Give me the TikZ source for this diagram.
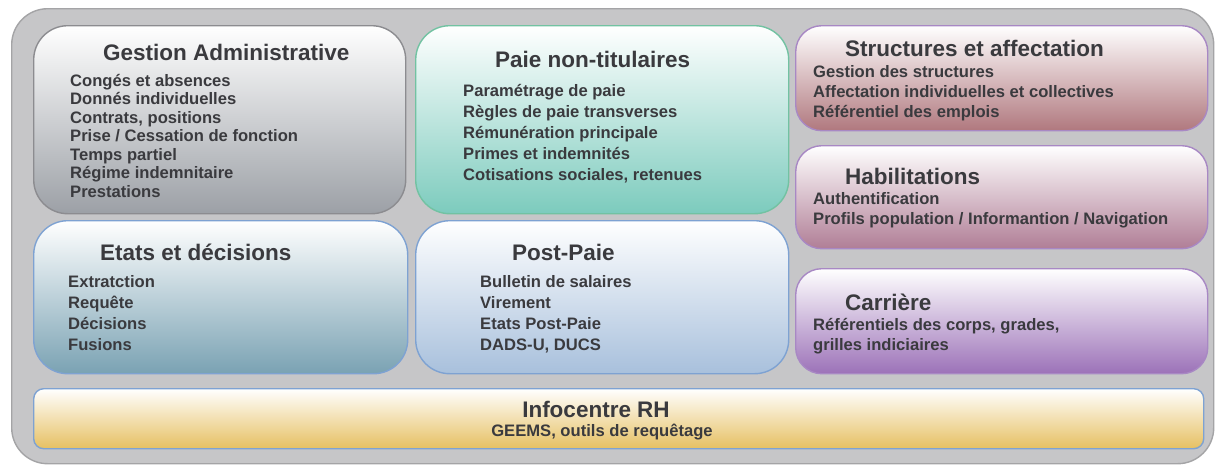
\documentclass[tikz,border=0pt]{standalone}
\usepackage{fontspec}
\setmainfont{Liberation Sans}
\definecolor{rhInk}{HTML}{3A3A3E}
\definecolor{rhFrame}{HTML}{C6C6C8}
\definecolor{rhFrameLine}{HTML}{A4A4A6}
\definecolor{rhGray}{HTML}{9CA0A6}
\definecolor{rhGrayLine}{HTML}{8C8C90}
\definecolor{rhTeal}{HTML}{7CCBBD}
\definecolor{rhTealLine}{HTML}{72C2A2}
\definecolor{rhRose}{HTML}{B0787E}
\definecolor{rhMauve}{HTML}{B07E96}
\definecolor{rhPurple}{HTML}{9C72B8}
\definecolor{rhPurpleLine}{HTML}{A888C4}
\definecolor{rhSteel}{HTML}{7AA2B3}
\definecolor{rhSky}{HTML}{A8C0DC}
\definecolor{rhBlueLine}{HTML}{7EA2D2}
\definecolor{rhGold}{HTML}{E6C062}
\usetikzlibrary{positioning}

\tikzset{
  module/.style={rectangle, rounded corners=34pt, line width=1.4pt, anchor=north west, top color=white,
    middle color=#1!62!white, bottom color=#1, inner sep=0pt},
  modtitle/.style={font=\fontsize{22.5}{26}\selectfont\bfseries, text=rhInk, inner sep=0pt, anchor=base west},
  modlist/.style={font=\fontsize{16.6}{20.7}\selectfont\bfseries, text=rhInk, align=left, inner sep=0pt, anchor=base west}
}

\begin{document}
\begin{tikzpicture}[x=1pt, y=-1pt]
  \useasboundingbox[fill=white] (0,0) rectangle (1215,464);
  \node[rectangle, rounded corners=36pt, fill=rhFrame, draw=rhFrameLine, line width=1.4pt, anchor=north west,
        minimum width=1202pt, minimum height=455pt] (frame) at (11,8) {};

  % left column (lists are placed by their last line)
  \node[module=rhGray, draw=rhGrayLine, minimum width=372pt, minimum height=188pt] (ga) at (33,25) {};
  \node[modtitle] (gaT) at (103,60) {Gestion Administrative};
  \node[modlist, font=\fontsize{16.6}{18.5}\selectfont\bfseries] (gaL) at (70,197)
    {Congés et absences\\Donnés individuelles\\Contrats, positions\\Prise / Cessation de fonction\\Temps partiel\\Régime indemnitaire\\Prestations};

  \node[module=rhSteel, draw=rhBlueLine, minimum width=374pt, minimum height=153pt] (ed) at (33,220) {};
  \node[modtitle] (edT) at (100,260) {Etats et décisions};
  \node[modlist] (edL) at (68,350) {Extratction\\Requête\\Décisions\\Fusions};

  % middle column
  \node[module=rhTeal, draw=rhTealLine, minimum width=373pt, minimum height=188pt] (pnt) at (415,25) {};
  \node[modtitle] (pntT) at (495,67) {Paie non-titulaires};
  \node[modlist, font=\fontsize{16.6}{21}\selectfont\bfseries] (pntL) at (463,180)
    {Paramétrage de paie\\Règles de paie transverses\\Rémunération principale\\Primes et indemnités\\Cotisations sociales, retenues};

  \node[module=rhSky, draw=rhBlueLine, minimum width=373pt, minimum height=153pt] (pp) at (415,220) {};
  \node[modtitle] (ppT) at (512,260) {Post-Paie};
  \node[modlist] (ppL) at (480,350) {Bulletin de salaires\\Virement\\Etats Post-Paie\\DADS-U, DUCS};

  % right column
  \node[module=rhRose, rounded corners=26pt, draw=rhPurpleLine, minimum width=412pt, minimum height=105pt] (sa) at (795,25) {};
  \node[modtitle] (saT) at (845,56) {Structures et affectation};
  \node[modlist, font=\fontsize{16.6}{20}\selectfont\bfseries] (saL) at (813,117)
    {Gestion des structures\\Affectation individuelles et collectives\\Référentiel des emplois};

  \node[module=rhMauve, rounded corners=26pt, draw=rhPurpleLine, minimum width=412pt, minimum height=103pt] (hab) at (795,145) {};
  \node[modtitle] (habT) at (845,184) {Habilitations};
  \node[modlist, font=\fontsize{16.6}{20}\selectfont\bfseries] (habL) at (813,224)
    {Authentification\\Profils population / Informantion / Navigation};

  \node[module=rhPurple, rounded corners=26pt, draw=rhPurpleLine, minimum width=412pt, minimum height=105pt] (car) at (795,268) {};
  \node[modtitle] (carT) at (845,310) {Carrière};
  \node[modlist, font=\fontsize{16.6}{20}\selectfont\bfseries] (carL) at (813,350)
    {Référentiels des corps, grades,\\grilles indiciaires};

  % bottom band
  \node[module=rhGold, rounded corners=10pt, draw=rhBlueLine, minimum width=1170pt, minimum height=60pt] (info) at (33,388) {};
  \node[modtitle, anchor=base] (infoT) at (596,417) {Infocentre RH};
  \node[modlist, anchor=base, font=\fontsize{16.6}{20}\selectfont\bfseries] (infoL) at (602,436) {GEEMS, outils de requêtage};
\end{tikzpicture}
\end{document}
